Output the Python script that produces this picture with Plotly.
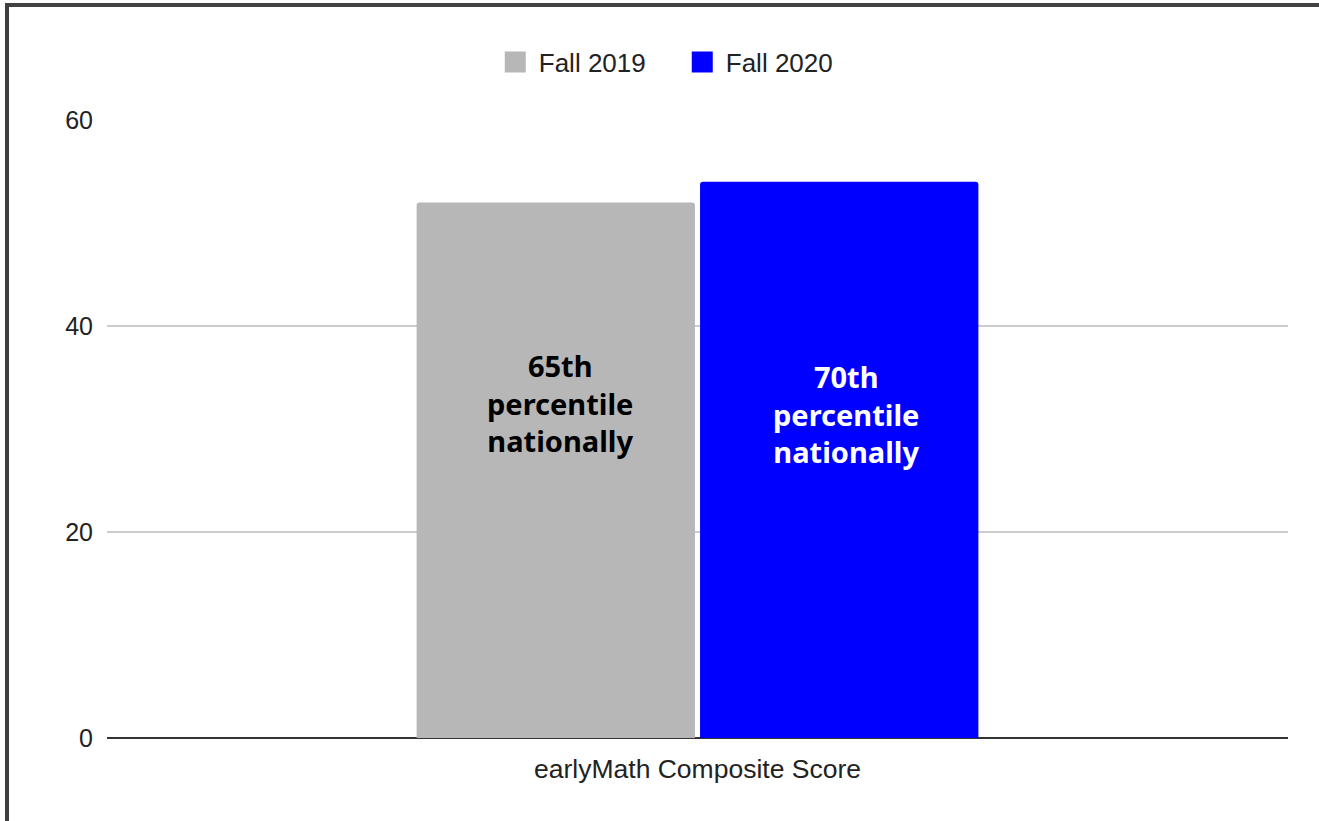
import plotly.graph_objects as go

# ---- data ----
categories = ["earlyMath Composite Score"]
series_names = ["Fall 2019", "Fall 2020"]
values_2019 = [52]
values_2020 = [54]
labels_2019 = ["65th<br>percentile<br>nationally"]
labels_2020 = ["70th<br>percentile<br>nationally"]
label_y = [32.5, 31.5]
y_ticks = [0, 20, 40, 60]

colors = ["#b7b7b7", "#0000ff"]
text_colors = ["#000000", "#ffffff"]

W, H = 1319, 821
ML, MR, MT, MB = 107, 31, 120, 83
pw = W - ML - MR
ph = H - MT - MB

fig = go.Figure()
for name, vals, col in zip(series_names, [values_2019, values_2020], colors):
    fig.add_trace(go.Bar(x=categories, y=vals, name=name, marker_color=col,
                         marker_line_width=0, showlegend=False,
                         legendgroup=name))
# legend entries (larger square swatches)
for name, col in zip(series_names, colors):
    fig.add_trace(go.Scatter(x=[None], y=[None], mode="markers", name=name,
                             legendgroup=name,
                             marker=dict(symbol="square", size=16, color=col,
                                         line=dict(color=col, width=5))))

xshifts = [-138, 148]
for i, (lab, tc) in enumerate(zip([labels_2019, labels_2020], text_colors)):
    fig.add_annotation(x=categories[0], y=label_y[i], xref="x", yref="y",
                       text=lab[0], showarrow=False,
                       xshift=xshifts[i],
                       font=dict(family="Noto Sans", size=29, color=tc, weight="bold"),
                       align="center")

# frame (top and left edges of the screenshot border)
def px_to_paper_x(px):
    return (px - ML) / pw

def px_to_paper_y(py):
    return (H - MB - py) / ph

fig.add_shape(type="line", xref="paper", yref="paper",
              x0=px_to_paper_x(5), x1=px_to_paper_x(W + 5),
              y0=px_to_paper_y(5), y1=px_to_paper_y(5),
              line=dict(color="#404040", width=4), layer="above")
fig.add_shape(type="line", xref="paper", yref="paper",
              x0=px_to_paper_x(7), x1=px_to_paper_x(7),
              y0=px_to_paper_y(3), y1=px_to_paper_y(H + 5),
              line=dict(color="#404040", width=4), layer="above")

fig.update_layout(
    width=W, height=H,
    margin=dict(l=ML, r=MR, t=MT, b=MB),
    paper_bgcolor="white", plot_bgcolor="white",
    barmode="group", bargap=0.52, bargroupgap=0.018,
    barcornerradius=3,
    font=dict(family="Arial", size=26, color="#222222"),
    legend=dict(orientation="h", x=0.5146, xref="container", xanchor="center",
                y=(H - 62) / H, yref="container", yanchor="middle",
                font=dict(family="Arial", size=26, color="#222222"),
                itemwidth=37, traceorder="normal", entrywidth=135,
                itemclick=False, itemdoubleclick=False),
    showlegend=True,
)
fig.update_yaxes(range=[0, 60], tickvals=y_ticks, showgrid=True,
                 gridcolor="#cccccc", gridwidth=1.5, zeroline=True,
                 zerolinecolor="#333333", zerolinewidth=2,
                 ticks="", ticklabelstandoff=13, showline=False,
                 tickfont=dict(family="Arial", size=25, color="#222222"))
fig.update_xaxes(showgrid=False, ticks="", showline=False,
                 tickfont=dict(family="Arial", size=26.5, color="#222222"),
                 ticklabelstandoff=12)

fig.write_html("out.html", config={"displayModeBar": False},
               post_script="document.body.style.margin='0';document.body.style.padding='0';")
